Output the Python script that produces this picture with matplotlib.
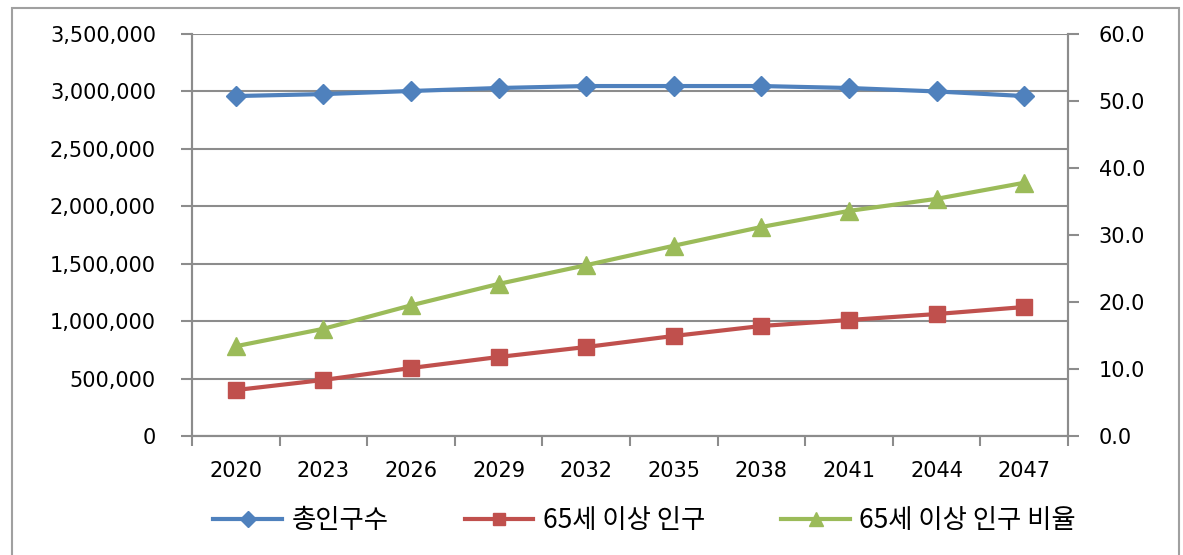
import matplotlib
matplotlib.use("Agg")
import matplotlib.pyplot as plt
from matplotlib.ticker import FuncFormatter, MultipleLocator
from matplotlib.patches import Rectangle

plt.rcParams['font.family'] = ['DejaVu Sans', 'Noto Sans CJK KR']

years = ['2020', '2023', '2026', '2029', '2032', '2035', '2038', '2041', '2044', '2047']
total_pop = [2960000, 2977000, 3004000, 3030000, 3047000, 3047000, 3047000, 3030000, 3000000, 2960000]
pop_65 = [400000, 488000, 592000, 688000, 775000, 871000, 958000, 1010000, 1062000, 1123000]
ratio_65 = [13.4, 16.0, 19.5, 22.7, 25.5, 28.4, 31.2, 33.6, 35.4, 37.8]

label_total = '총인구수'
label_65 = '65세 이상 인구'
label_ratio = '65세 이상 인구 비율'

BLUE = '#4f81bd'
RED = '#c0504d'
GREEN = '#9bbb59'
GRAY = '#8c8c8c'

fig = plt.figure(figsize=(11.83, 5.55), dpi=100)
# outer chart border
fig.patches.append(Rectangle((0.010, -0.01), 0.987, 0.996, transform=fig.transFigure,
                             fill=False, edgecolor='#a0a0a0', linewidth=1.5))

ax = fig.add_axes([0.1623, 0.2144, 0.7405, 0.7243])
ax2 = ax.twinx()

x = list(range(len(years)))
l1, = ax.plot(x, total_pop, color=BLUE, lw=3, marker='D', ms=10, label=label_total)
l2, = ax.plot(x, pop_65, color=RED, lw=3, marker='s', ms=11, label=label_65)
l3, = ax2.plot(x, ratio_65, color=GREEN, lw=3, marker='^', ms=13, label=label_ratio)

ax.set_xlim(-0.5, len(years) - 0.5)
ax.set_ylim(0, 3500000)
ax2.set_ylim(0, 60)
ax.yaxis.set_major_locator(MultipleLocator(500000))
ax.yaxis.set_major_formatter(FuncFormatter(lambda v, p: f'{int(v):,}'))
ax2.yaxis.set_major_locator(MultipleLocator(10))
ax2.yaxis.set_major_formatter(FuncFormatter(lambda v, p: f'{v:.1f}'))

ax.set_xticks(x)
ax.set_xticklabels(years)
ax.set_xticks([i - 0.5 for i in range(len(years) + 1)], minor=True)
ax.tick_params(axis='x', which='major', length=0, pad=18, labelsize=15)
ax.tick_params(axis='x', which='minor', length=7, color=GRAY, width=1.5, direction='out')
ax.tick_params(axis='y', length=8, color=GRAY, width=1.5, labelsize=15, pad=18)
ax2.tick_params(axis='y', length=8, color=GRAY, width=1.5, labelsize=15, pad=14)

ax.grid(axis='y', color=GRAY, lw=1.5)
ax.set_axisbelow(True)
for a in (ax, ax2):
    a.spines['top'].set_visible(False)
    for s in ('left', 'right', 'bottom'):
        a.spines[s].set_color(GRAY)
        a.spines[s].set_linewidth(1.5)

fig.legend(handles=[l1, l2, l3], loc='center', bbox_to_anchor=(0.545, 0.062), ncol=3,
           frameon=False, handlelength=2.6, columnspacing=2.9, handletextpad=0.35,
           markerscale=0.8,
           prop={'family': ['Noto Sans CJK KR', 'DejaVu Sans'], 'size': 19})

fig.savefig('out.png', dpi=100, facecolor='white')
